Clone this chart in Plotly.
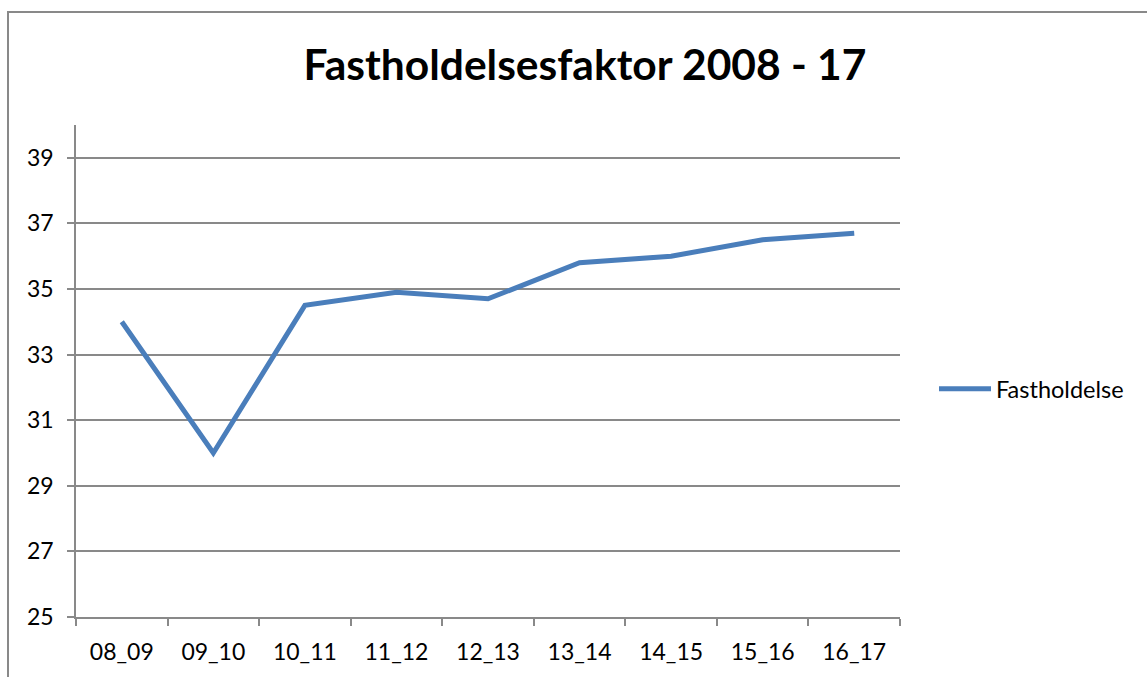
import plotly.graph_objects as go

categories = ["08_09", "09_10", "10_11", "11_12", "12_13", "13_14", "14_15", "15_16", "16_17"]
values = [34.0, 30.0, 34.5, 34.9, 34.7, 35.8, 36.0, 36.5, 36.7]
series_name = "Fastholdelse"
title_text = "Fastholdelsesfaktor 2008 - 17"
y_ticks = [25, 27, 29, 31, 33, 35, 37, 39]

W, H = 1147, 677
L, R, T, B = 76, 247, 125, 60
pw, ph = W - L - R, H - T - B
FONT = "Lato"
GRAY = "#898989"

fig = go.Figure()
fig.add_trace(go.Scatter(
    x=categories, y=values, mode="lines", name=series_name,
    line=dict(color="#4a7ebb", width=5),
))

fig.update_layout(
    width=W, height=H,
    margin=dict(l=L, r=R, t=T, b=B),
    paper_bgcolor="white", plot_bgcolor="white",
    font=dict(family=FONT, size=23, color="black"),
    title=dict(text="<b>" + title_text + "</b>", x=585 / W, xref="container", xanchor="center",
               y=1 - 65 / H, yref="container", yanchor="middle",
               font=dict(family=FONT, size=42.5, color="black")),
    showlegend=True,
    legend=dict(x=(934 - L) / pw, y=(617 - 389) / ph, xanchor="left", yanchor="middle",
                font=dict(family=FONT, size=23.5, color="black"),
                bgcolor="rgba(0,0,0,0)", itemwidth=52),
    xaxis=dict(type="category", range=[-0.5, len(categories) - 0.5],
               tickson="boundaries", ticks="outside", ticklen=7, tickcolor=GRAY, tickwidth=1.5,
               showline=True, linecolor=GRAY, linewidth=1.5, showgrid=False,
               ticklabelstandoff=14,
               tickfont=dict(family=FONT, size=23, color="black"), fixedrange=True),
    yaxis=dict(range=[25, 40], tickvals=y_ticks, ticks="outside", ticklen=7,
               tickcolor=GRAY, tickwidth=1.5, showline=True, linecolor=GRAY, linewidth=1.5,
               showgrid=True, gridcolor=GRAY, gridwidth=1.5, zeroline=False,
               ticklabelstandoff=9,
               tickfont=dict(family=FONT, size=23, color="black"), fixedrange=True),
)

# outer chart border (partly cropped in the reference)
fig.add_shape(type="rect", xref="paper", yref="paper",
              x0=(8 - L) / pw, x1=(1300 - L) / pw,
              y0=-300 / ph, y1=1 + (T - 12) / ph,
              line=dict(color=GRAY, width=2), fillcolor="rgba(0,0,0,0)", layer="below")

fig.write_html("out.html", config={"displayModeBar": False},
               post_script="document.body.style.margin='0px';")
